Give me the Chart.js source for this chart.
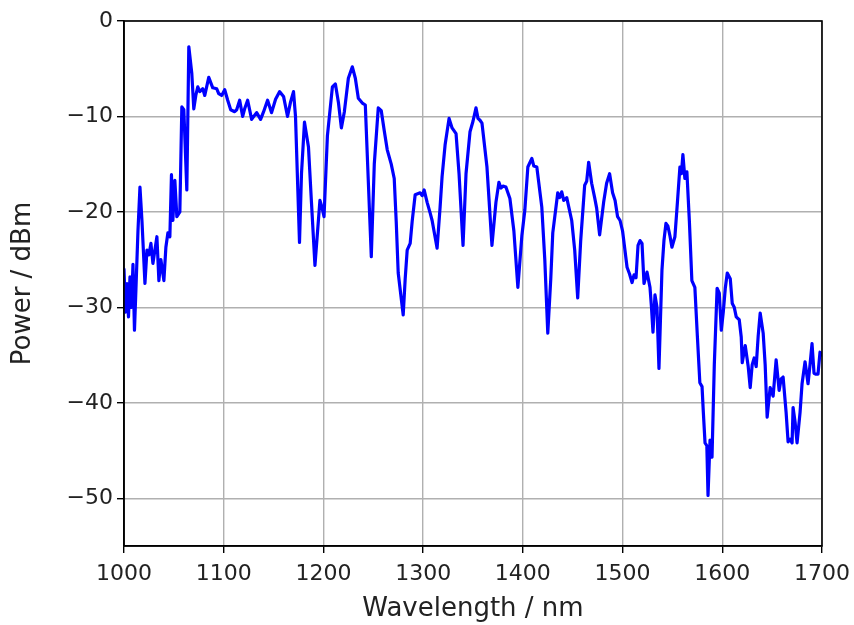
<!DOCTYPE html>
<html>
<head>
<meta charset="utf-8">
<script src="https://cdn.jsdelivr.net/npm/chart.js@4/dist/chart.umd.min.js"></script>
<style>
  html, body { margin: 0; padding: 0; background: #ffffff; }
  #wrap { width: 854px; height: 625px; }
</style>
</head>
<body>
<div id="wrap"><canvas id="c" width="854" height="625"></canvas></div>
<script>
// ---- data ----
const wavelength = [
  1000, 1001.5, 1003, 1004.5, 1006, 1007.5, 1009, 1010.5, 1012, 1014,
  1016, 1018, 1021, 1023, 1025, 1027, 1029, 1031, 1033, 1035,
  1037, 1040, 1042, 1044, 1046, 1047.6, 1049, 1051, 1053, 1056,
  1058, 1060, 1063, 1065, 1068, 1070, 1072, 1074, 1076, 1079,
  1081, 1085, 1089, 1093, 1095, 1098, 1101, 1104, 1107, 1111,
  1113, 1116, 1119, 1121, 1124, 1128, 1133, 1137, 1140, 1144,
  1148, 1152, 1156, 1160, 1164, 1167, 1170, 1172, 1176, 1178,
  1181, 1185, 1188, 1191.5, 1196.5, 1198.5, 1200.6, 1204, 1209, 1212,
  1215, 1218, 1221, 1225, 1229, 1232, 1235, 1239, 1242, 1248,
  1251, 1255, 1258, 1261, 1264, 1268, 1271, 1273, 1275, 1280,
  1282, 1284, 1287, 1289, 1292, 1297, 1299, 1301, 1304, 1307,
  1309, 1314, 1317, 1319, 1322, 1326, 1329, 1333, 1336, 1340,
  1343, 1347, 1350, 1353, 1355, 1357, 1359, 1364, 1369, 1373,
  1376, 1378, 1380, 1383, 1387, 1391, 1395, 1399, 1402, 1405,
  1409, 1411, 1414, 1419, 1422, 1425, 1428, 1430, 1435, 1437,
  1439, 1441, 1444, 1449, 1452, 1455, 1458, 1462, 1464, 1466,
  1469, 1472, 1474, 1477, 1481, 1484, 1487, 1490, 1492.5, 1495,
  1497.5, 1500, 1504.5, 1507, 1509.5, 1511.5, 1513.5, 1515.5, 1517.5, 1519.5,
  1521.5, 1524.5, 1527.5, 1529, 1530.5, 1532.5, 1534.5, 1536.5, 1539.5, 1541.5,
  1543.5, 1545.5, 1547.5, 1549.5, 1552.5, 1555, 1557.5, 1559, 1560.5, 1562.5,
  1564.5, 1567, 1569.5, 1572.5, 1575, 1577.5, 1579.7, 1581, 1582.7, 1584.5,
  1585.7, 1587.7, 1589.7, 1592, 1594.8, 1597, 1599, 1601, 1603, 1605,
  1608, 1610, 1612, 1614, 1617, 1619, 1620, 1623, 1626, 1628,
  1630, 1632, 1634, 1636, 1638, 1641, 1643, 1645, 1648, 1651,
  1654, 1657, 1659, 1661, 1664, 1666, 1668, 1670, 1671, 1673,
  1675, 1678, 1680, 1683, 1686, 1688, 1690, 1692, 1694, 1696,
  1698, 1700
];
const power = [
  -26, -30.5, -27.5, -31, -26.8, -30, -25.5, -32.4, -28, -22,
  -17.4, -20.9, -27.5, -24, -24.5, -23.3, -25.4, -24, -22.6, -27.2,
  -25, -27.2, -23.7, -22.2, -22.6, -16.1, -20.9, -16.7, -20.5, -20,
  -9, -9.3, -17.7, -2.7, -5.5, -9.2, -7.8, -6.9, -7.4, -7.1,
  -7.8, -5.9, -7, -7.1, -7.6, -7.8, -7.2, -8.3, -9.3, -9.5,
  -9.3, -8.3, -10, -9.2, -8.3, -10.3, -9.6, -10.3, -9.5, -8.3,
  -9.6, -8.2, -7.4, -7.9, -10, -8.5, -7.4, -10, -23.2, -16,
  -10.6, -13.2, -19, -25.6, -18.8, -19.5, -20.5, -12, -6.9, -6.6,
  -8.5, -11.2, -9.5, -6, -4.8, -6, -8.1, -8.6, -8.8, -24.7,
  -15, -9.1, -9.4, -11.5, -13.5, -15, -16.5, -21, -26.4, -30.8,
  -27, -24, -23.3, -21, -18.2, -18, -18.3, -17.7, -19, -20.1,
  -20.9, -23.8, -19.5, -16.3, -13, -10.2, -11.2, -11.8, -16, -23.5,
  -16, -11.6, -10.5, -9.1, -10.2, -10.4, -10.7, -15.3, -23.5, -19,
  -16.9, -17.5, -17.3, -17.4, -18.6, -22, -27.9, -22.5, -19.8, -15.3,
  -14.4, -15.2, -15.3, -19.5, -25, -32.7, -27, -22.2, -18, -18.5,
  -17.9, -18.8, -18.5, -20.9, -24, -29, -23, -17.2, -16.8, -14.8,
  -17, -18.5, -19.6, -22.4, -19, -17, -16, -18, -18.8, -20.5,
  -20.9, -22, -25.8, -26.5, -27.4, -26.6, -26.9, -23.5, -23, -23.3,
  -27.5, -26.3, -27.9, -30, -32.6, -28.7, -30, -36.4, -26.1, -23,
  -21.2, -21.5, -22.5, -23.7, -22.6, -19, -15.3, -16, -14, -16.5,
  -15.8, -21, -27.2, -27.9, -33, -37.9, -38.3, -41, -44.2, -44.5,
  -49.7, -43.9, -45.7, -36, -28, -28.5, -32.4, -30.5, -28, -26.4,
  -27, -29.6, -30, -31, -31.3, -33.1, -35.8, -34, -36.2, -38.4,
  -36, -35.3, -36.2, -33, -30.6, -32.7, -36, -41.5, -38.4, -39.3,
  -35.5, -38.7, -37.5, -37.3, -41, -44.1, -43.8, -44.2, -40.5, -42,
  -44.2, -41, -38, -35.7, -38, -36, -33.8, -36.9, -37, -37,
  -34.7, -35
];
const xTicks = [1000, 1100, 1200, 1300, 1400, 1500, 1600, 1700];
const yTicks = [0, -10, -20, -30, -40, -50];
const xTitle = 'Wavelength / nm';
const yTitle = 'Power / dBm';

// ---- chart ----
const points = wavelength.map((w, i) => ({ x: w, y: power[i] }));
const fmt = v => (v < 0 ? '\u2212' + Math.abs(v) : String(v));

const frame = {
  id: 'frame',
  afterDraw(chart) {
    const a = chart.chartArea, ctx = chart.ctx;
    ctx.save();
    ctx.strokeStyle = '#000';
    ctx.lineWidth = 1.6;
    ctx.strokeRect(a.left, a.top, a.right - a.left, a.bottom - a.top);
    ctx.restore();
  }
};

new Chart(document.getElementById('c'), {
  type: 'line',
  data: {
    datasets: [{
      data: points,
      borderColor: '#0000ff',
      borderWidth: 3.2,
      borderJoinStyle: 'round',
      borderCapStyle: 'round',
      pointRadius: 0,
      tension: 0,
      fill: false
    }]
  },
  options: {
    responsive: false,
    devicePixelRatio: 1,
    animation: false,
    events: [],
    layout: { padding: { top: 21, right: 32, bottom: 0, left: 0 } },
    plugins: { legend: { display: false }, tooltip: { enabled: false } },
    scales: {
      x: {
        type: 'linear',
        min: 1000, max: 1700,
        afterFit: s => { s.height = 79; s.paddingLeft = 0; s.paddingRight = 0; },
        afterBuildTicks: s => { s.ticks = xTicks.map(v => ({ value: v })); },
        grid: { color: '#b0b0b0', lineWidth: 1.4, tickColor: '#000', tickLength: 7, tickWidth: 1.4 },
        border: { display: true, color: '#000', width: 1.6 },
        ticks: { color: '#222', font: { family: 'DejaVu Sans', size: 22 }, padding: 8, maxRotation: 0, autoSkip: false, callback: v => String(v) },
        title: { display: true, text: xTitle, color: '#222', font: { family: 'DejaVu Sans', size: 26 }, padding: { top: 0, bottom: 0 } }
      },
      y: {
        type: 'linear',
        min: -55, max: 0,
        afterFit: s => { s.width = 124; s.paddingTop = 0; s.paddingBottom = 0; },
        afterBuildTicks: s => { s.ticks = yTicks.map(v => ({ value: v })); },
        grid: { color: '#b0b0b0', lineWidth: 1.4, tickColor: '#000', tickLength: 7, tickWidth: 1.4 },
        border: { display: true, color: '#000', width: 1.6 },
        ticks: { color: '#222', font: { family: 'DejaVu Sans', size: 22 }, padding: 4, autoSkip: false, callback: v => fmt(v) },
        title: { display: true, text: yTitle, color: '#222', font: { family: 'DejaVu Sans', size: 26 }, padding: { top: 8, bottom: 0 } }
      }
    }
  },
  plugins: [frame]
});
</script>
</body>
</html>
